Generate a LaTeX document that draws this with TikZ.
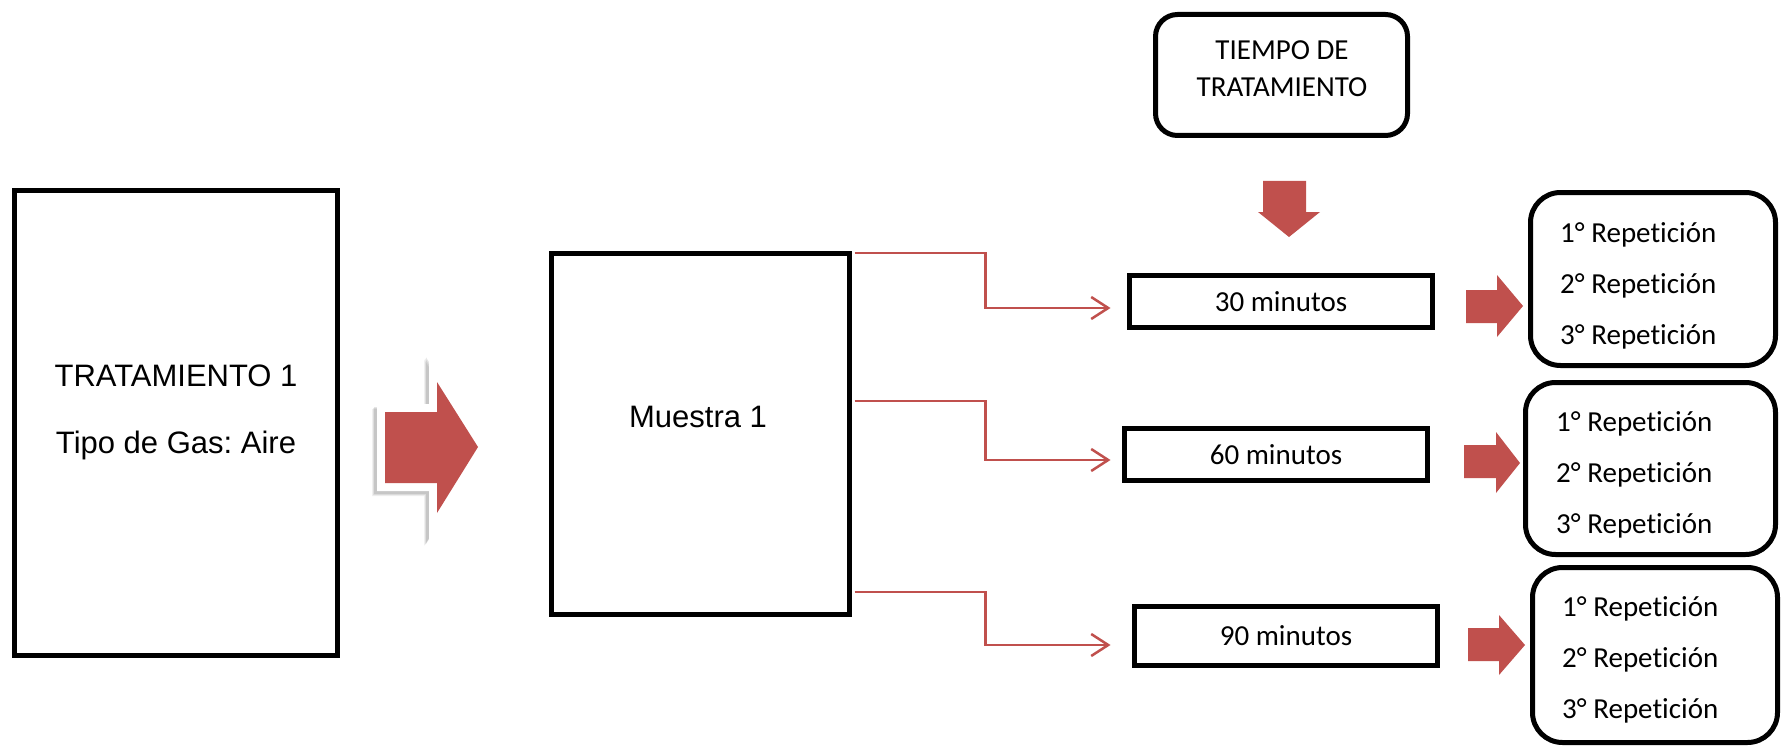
\documentclass[tikz,border=0pt]{standalone}
\usepackage{fontspec}
\newfontfamily\arialf{Liberation Sans}
\newfontfamily\calibrif[Ligatures={NoCommon,NoRare}]{Carlito}
\usetikzlibrary{arrows.meta}
\definecolor{accred}{HTML}{C0504D}
\frenchspacing
\begin{document}
\begin{tikzpicture}[x=1pt,y=-1pt,
  sqbox/.style={draw=black,line width=5pt,fill=white,inner sep=0pt},
  rbox/.style={sqbox,rounded corners=22pt},
  arialtxt/.style={font={\arialf\fontsize{31}{67}\selectfont},align=center,inner sep=0pt},
  calitxt/.style={font={\calibrif\fontsize{29}{37}\selectfont},align=center},
  reptxt/.style={font={\calibrif\fontsize{29}{51}\selectfont},align=left,inner sep=0pt,anchor=west},
  conn/.style={draw=accred,line width=2.5pt,-{Straight Barb[length=17pt,width=22pt]}},
  blockarrow/.style={fill=accred}
]
\fill[white] (0,0) rectangle (1781,749);
\useasboundingbox (0,0) rectangle (1781,749);

% left box
\node[sqbox,minimum width=323pt,minimum height=465pt] (trat) at (176,423) {};
\node[arialtxt] (tratT) at (176,412) {TRATAMIENTO 1\\Tipo de Gas: Aire};

% big arrow with white border and soft shadow
\foreach \s/\o in {5/0.06,4/0.08,3/0.10}{
\path[fill=black,draw=black,opacity=\o,line width=16pt,line join=miter,shift={(-\s,\s)}]
  (385,412) -- (437,412) -- (437,382) -- (478,447) -- (437,513) -- (437,483) -- (385,483) -- cycle;
}
\path[fill=white,draw=white,line width=16pt,line join=miter]
  (385,412) -- (437,412) -- (437,382) -- (478,447) -- (437,513) -- (437,483) -- (385,483) -- cycle;
\path[blockarrow]
  (385,412) -- (437,412) -- (437,382) -- (478,447) -- (437,513) -- (437,483) -- (385,483) -- cycle;

% sample box
\node[sqbox,minimum width=298pt,minimum height=361pt] (mue) at (700.5,434) {};
\node[arialtxt] (mueT) at (698,417) {Muestra 1};

% time header
\node[rbox,minimum width=252pt,minimum height=121pt] (tiempo) at (1281.5,75) {};
\node[calitxt,inner sep=0pt] (tiempoT) at (1282,68.5) {TIEMPO DE\\TRATAMIENTO};
\path[blockarrow] (1263,181) -- (1306,181) -- (1306,212) -- (1320,212) -- (1289,237) -- (1258,212) -- (1263,212) -- cycle;

% time boxes
\node[sqbox,calitxt,inner sep=0pt,minimum width=303pt,minimum height=52pt] (t30) at (1281,301.5) {30 minutos};
\node[sqbox,calitxt,inner sep=0pt,minimum width=303pt,minimum height=52pt] (t60) at (1276,454.5) {60 minutos};
\node[sqbox,calitxt,inner sep=0pt,minimum width=303pt,minimum height=59pt] (t90) at (1286,636) {90 minutos};

% connectors
\draw[conn,shorten >=16.5pt] ([xshift=2.5pt,yshift=181pt]mue.east) -- ++(131,0) |- ([yshift=-6.5pt]t30.west);
\draw[conn,shorten >=11.5pt] ([xshift=2.5pt,yshift=33pt]mue.east) -- ++(131,0) |- ([yshift=-5.5pt]t60.west);
\draw[conn,shorten >=21.5pt] ([xshift=2.5pt,yshift=-158pt]mue.east) -- ++(131,0) |- ([yshift=-9pt]t90.west);

% repetition boxes
\node[rbox,rounded corners=30pt,minimum width=245pt,minimum height=173pt] (r1) at (1653,279) {};
\node[reptxt] (r1T) at (1560,285.5) {1° Repetición\\2° Repetición\\3° Repetición};
\node[rbox,rounded corners=30pt,minimum width=250pt,minimum height=172pt] (r2) at (1650.5,468.5) {};
\node[reptxt] (r2T) at (1556,475) {1° Repetición\\2° Repetición\\3° Repetición};
\node[rbox,rounded corners=30pt,minimum width=245pt,minimum height=175pt] (r3) at (1655,655) {};
\node[reptxt] (r3T) at (1562,660) {1° Repetición\\2° Repetición\\3° Repetición};

% small block arrows
\path[blockarrow] (1466,290) -- (1497,290) -- (1497,275) -- (1523,306) -- (1497,337) -- (1497,323) -- (1466,323) -- cycle;
\path[blockarrow] (1464,445) -- (1496,445) -- (1496,432) -- (1520,463) -- (1496,493) -- (1496,478) -- (1464,478) -- cycle;
\path[blockarrow] (1468,628) -- (1499,628) -- (1499,615) -- (1525,645) -- (1499,675) -- (1499,661) -- (1468,661) -- cycle;
\end{tikzpicture}
\end{document}
